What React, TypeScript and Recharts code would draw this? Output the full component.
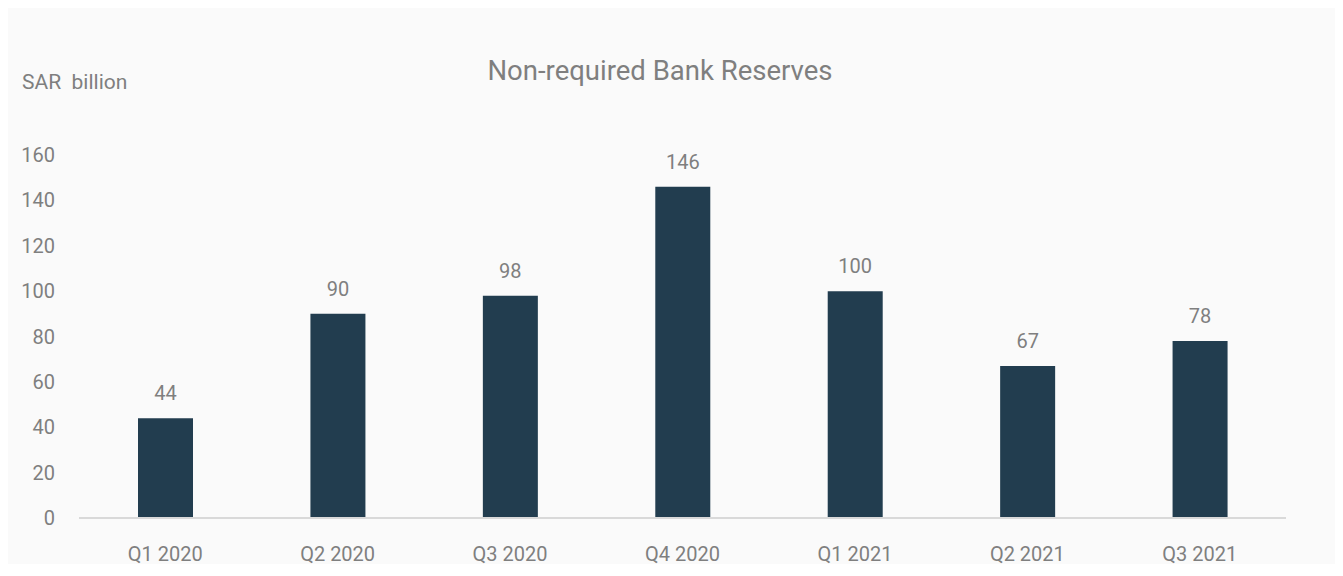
import { BarChart, Bar, XAxis, YAxis, LabelList } from "recharts";

const quarters = ["Q1 2020", "Q2 2020", "Q3 2020", "Q4 2020", "Q1 2021", "Q2 2021", "Q3 2021"];
const reserves = [44, 90, 98, 146, 100, 67, 78];
const yTicks = [0, 20, 40, 60, 80, 100, 120, 140, 160];

const data = quarters.map((q, i) => ({ quarter: q, value: reserves[i] }));

const FONT = "Roboto, sans-serif";
const GREY = "#7f7f7f";

export default function App() {
  return (
    <div
      style={{
        position: "relative",
        width: 1333,
        height: 556,
        marginLeft: -3,
        background: "#fafafa",
        fontFamily: FONT,
      }}
    >
      <BarChart
        width={1333}
        height={566}
        data={data}
        margin={{ top: 147, right: 52, left: 0, bottom: 26 }}
      >
        <XAxis
          dataKey="quarter"
          axisLine={{ stroke: "#d9d9d9", strokeWidth: 2 }}
          tickLine={false}
          tickMargin={23}
          height={30}
          interval={0}
          tick={{ fill: GREY, fontSize: 20, fontFamily: FONT }}
        />
        <YAxis
          width={74}
          domain={[0, 160]}
          ticks={yTicks}
          axisLine={false}
          tickLine={false}
          tickMargin={18}
          tick={{ fill: GREY, fontSize: 20, fontFamily: FONT }}
        />
        <Bar dataKey="value" fill="#223d4f" barSize={55} isAnimationActive={false}>
          <LabelList
            dataKey="value"
            position="top"
            offset={18}
            fill={GREY}
            fontSize={20}
            fontFamily={FONT}
          />
        </Bar>
      </BarChart>
      <svg
        width={1333}
        height={556}
        style={{ position: "absolute", left: 0, top: 0, pointerEvents: "none" }}
      >
        <text x={655} y={72} textAnchor="middle" fill={GREY} fontSize={27.5} fontFamily={FONT}>
          Non-required Bank Reserves
        </text>
        <text x={17} y={81} fill={GREY} fontSize={21} fontFamily={FONT} style={{ whiteSpace: "pre" }}>
          {"SAR  billion"}
        </text>
      </svg>
    </div>
  );
}
